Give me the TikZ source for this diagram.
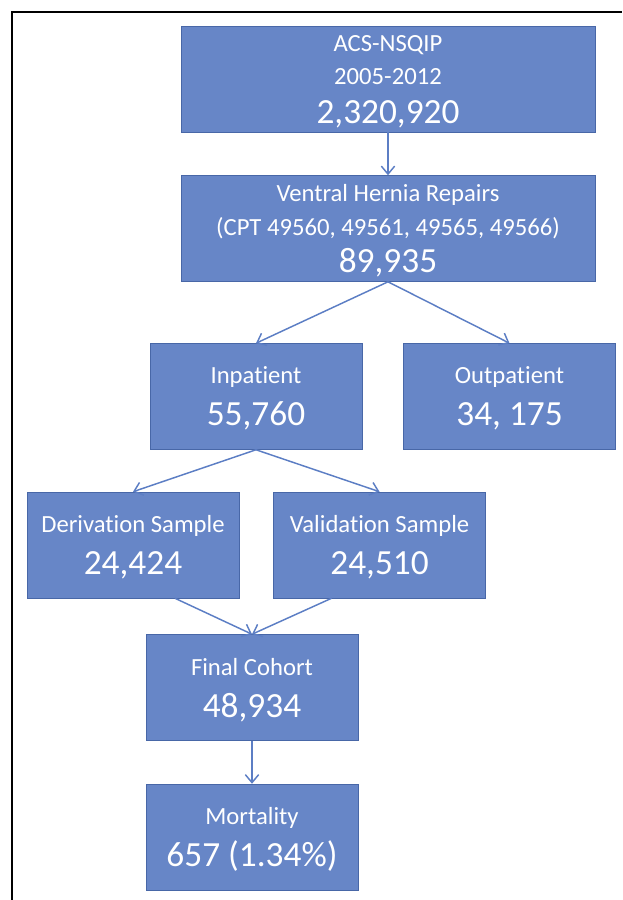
\documentclass[tikz,border=0pt]{standalone}
\usepackage{fontspec}
\setmainfont{Carlito}[Ligatures=NoCommon]
\usepackage{xcolor}
\usetikzlibrary{arrows.meta, positioning}
\definecolor{boxfill}{RGB}{103,134,199}
\definecolor{boxline}{RGB}{72,103,167}
\definecolor{flowline}{RGB}{92,126,196}
\newcommand{\bignum}[1]{{\fontsize{26.5}{30}\selectfont #1}}

\begin{document}
\begin{tikzpicture}[
    x=0.75pt, y=-0.75pt,
    every node/.style={align=center, text=white, font=\fontsize{18.5}{30}\selectfont},
    wide/.style={draw=boxline, fill=boxfill, rectangle, inner sep=0pt, text depth=0pt, minimum width=310.5pt, minimum height=79.5pt},
    rect/.style={draw=boxline, fill=boxfill, rectangle, inner sep=0pt, text depth=0pt, minimum width=159pt, minimum height=79.5pt},
    flow/.style={draw=flowline, line width=1.1pt, -{Straight Barb[length=6pt, width=10pt]}}
]
\useasboundingbox (0,0) rectangle (622,900);

% Frame
\draw[line width=1.5pt] (12,900) -- (12,12) -- (622,12);

% Top nodes
\node[wide] (acs) at (388,79) {ACS-NSQIP\\[-5pt] 2005-2012\\[-1pt] \bignum{2,320,920}};
\node[wide, below=32.25pt of acs] (ventral) {Ventral Hernia Repairs\\[-4.5pt] (CPT 49560, 49561, 49565, 49566)\\[-2pt] \bignum{89,935}};

% Middle nodes
\node[rect] (inpatient) at (256,396.5) {Inpatient\\[1.5pt] \bignum{55,760}};
\node[rect, right=30.75pt of inpatient] (outpatient) {Outpatient\\[1.5pt] \bignum{34, 175}};
\node[rect] (derivation) at (133,545) {Derivation Sample\\[1.5pt] \bignum{24,424}};
\node[rect, right=25.5pt of derivation] (validation) {Validation Sample\\[1.5pt] \bignum{24,510}};

% Bottom nodes
\node[rect] (final) at (252,687.5) {Final Cohort\\[1.5pt] \bignum{48,934}};
\node[rect, below=32.25pt of final] (mortality) {Mortality\\[1.5pt] \bignum{657 (1.34\%)}};

% Edges
\draw[flow] (acs) -- (ventral);
\draw[flow] (ventral.south) -- (inpatient.north);
\draw[flow] (ventral.south) -- (outpatient.north);
\draw[flow] (inpatient.south) -- (derivation.north);
\draw[flow] (inpatient.south) -- (validation.north);
\draw[flow] ([xshift=31.5pt]derivation.south) -- (final.north);
\draw[flow] ([xshift=-36pt]validation.south) -- (final.north);
\draw[flow] (final) -- (mortality);
\end{tikzpicture}
\end{document}
